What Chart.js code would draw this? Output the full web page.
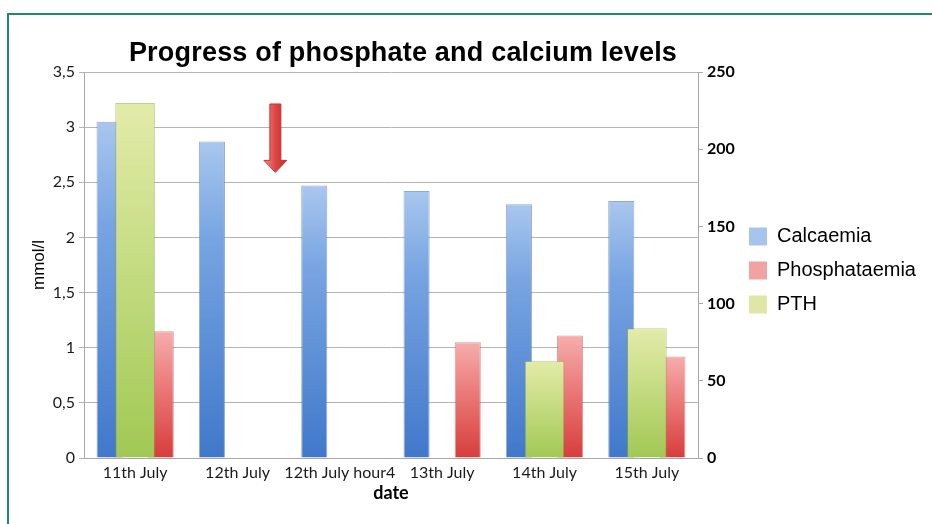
<!DOCTYPE html>
<html><head><meta charset="utf-8">
<script src="https://cdn.jsdelivr.net/npm/chart.js@4.4.1/dist/chart.umd.min.js"></script>
<style>
html,body{margin:0;padding:0;background:#fff;overflow:hidden}
#wrap{position:relative;width:932px;height:524px;overflow:hidden}
#frame{position:absolute;left:7px;top:13px;width:960px;height:540px;border:2px solid #1f8a6e;box-sizing:border-box}
canvas{position:absolute;left:0;top:0}
</style></head><body>
<div id="wrap"><div id="frame"></div><canvas id="c" width="932" height="524"></canvas></div>
<script>
// ---- data ----
const chartTitle = 'Progress of phosphate and calcium levels';
const categories = ['11th July', '12th July', '12th July hour4', '13th July', '14th July', '15th July'];
const calcaemia = [3.05, 2.87, 2.47, 2.42, 2.30, 2.33];
const phosphataemia = [1.15, null, null, 1.05, 1.11, 0.92];
const pth = [230, null, null, null, 63, 84];
const seriesNames = ['Calcaemia', 'Phosphataemia', 'PTH'];
const leftTickLabels = ['0', '0,5', '1', '1,5', '2', '2,5', '3', '3,5'];
const rightTickLabels = ['0', '50', '100', '150', '200', '250'];
const xTitle = 'date';
const yTitle = 'mmol/l';
// arrow annotation (pointing down between 12th July and 12th July hour4)
const arrowCategory = 1, arrowOffset = 0.37, arrowFrom = 3.21, arrowTo = 2.59;

// ---- styles ----
const blueStops = [[0, '#a9c7ef'], [0.3, '#78a5e2'], [1, '#4078ca']];
const redStops = [[0, '#f6adad'], [0.4, '#ec7e7d'], [1, '#d73d3b']];
const greenStops = [[0, '#e3eba9'], [0.4, '#c9de87'], [1, '#a1c854']];
const borderColors = ['rgba(60,100,170,0.55)', 'rgba(190,50,50,0.5)', 'rgba(130,160,60,0.5)'];
const legendColors = ['#a6c4ec', '#f2a2a2', '#dfe7a5'];

function barGradient(stops, axisId) {
  return (ctx) => {
    const chart = ctx.chart;
    if (ctx.type !== 'data' || !chart.chartArea || ctx.raw == null) return stops[1][1];
    const sc = chart.scales[axisId];
    const top = sc.getPixelForValue(ctx.raw), bot = sc.getPixelForValue(0);
    const g = chart.ctx.createLinearGradient(0, top, 0, bot);
    stops.forEach(([p, c]) => g.addColorStop(p, c));
    return g;
  };
}

const titlePlugin = {
  id: 'bigTitle',
  afterDraw(chart) {
    const c = chart.ctx, a = chart.chartArea;
    c.save();
    c.font = 'bold 27px "Liberation Sans", Arial, sans-serif';
    try { c.letterSpacing = '0.2px'; } catch (e) {}
    c.fillStyle = '#000';
    c.textAlign = 'center';
    c.textBaseline = 'alphabetic';
    c.fillText(chartTitle, (a.left + a.right) / 2 + 12, a.top - 11);
    c.restore();
  }
};

const arrowPlugin = {
  id: 'arrow',
  afterDatasetsDraw(chart) {
    const xs = chart.scales.x, ys = chart.scales.y, c = chart.ctx;
    const slot = xs.getPixelForValue(arrowCategory + 1) - xs.getPixelForValue(arrowCategory);
    const x = xs.getPixelForValue(arrowCategory) + arrowOffset * slot;
    const yTop = ys.getPixelForValue(arrowFrom), yTip = ys.getPixelForValue(arrowTo);
    const sw = 5.5, hw = 11.5, hh = 12;
    c.save();
    const g = c.createLinearGradient(x - hw, 0, x + hw, 0);
    g.addColorStop(0, '#f58a88'); g.addColorStop(0.5, '#de4644'); g.addColorStop(1, '#b92c2a');
    c.fillStyle = g;
    c.strokeStyle = '#c23634';
    c.lineWidth = 1;
    c.beginPath();
    c.moveTo(x - sw, yTop); c.lineTo(x + sw, yTop); c.lineTo(x + sw, yTip - hh);
    c.lineTo(x + hw, yTip - hh); c.lineTo(x, yTip); c.lineTo(x - hw, yTip - hh);
    c.lineTo(x - sw, yTip - hh); c.closePath();
    c.fill(); c.stroke();
    c.restore();
  }
};

const LEGEND_W = 197;
const legendWidthPlugin = {
  id: 'legendWidth',
  beforeLayout(chart) {
    const lg = chart.legend;
    if (lg && !lg._fixedW) {
      const f = lg.fit;
      lg.fit = function () { f.call(this); this.width = LEGEND_W; };
      lg._fixedW = true;
    }
  }
};

new Chart(document.getElementById('c'), {
  type: 'bar',
  data: {
    labels: categories,
    datasets: [
      { label: seriesNames[0], data: calcaemia, yAxisID: 'y', order: 1,
        backgroundColor: barGradient(blueStops, 'y'), borderColor: borderColors[0], borderWidth: 1, borderSkipped: 'bottom',
        categoryPercentage: 1.0, barPercentage: 0.51 },
      { label: seriesNames[1], data: phosphataemia, yAxisID: 'y', order: 2,
        backgroundColor: barGradient(redStops, 'y'), borderColor: borderColors[1], borderWidth: 1, borderSkipped: 'bottom',
        categoryPercentage: 1.0, barPercentage: 0.51 },
      { label: seriesNames[2], data: pth, yAxisID: 'y1', order: 0, grouped: false,
        backgroundColor: barGradient(greenStops, 'y1'), borderColor: borderColors[2], borderWidth: 1, borderSkipped: 'bottom',
        categoryPercentage: 1.0, barPercentage: 0.39 }
    ]
  },
  options: {
    responsive: false,
    animation: false,
    events: [],
    layout: { padding: { top: 72, left: 0, right: 0, bottom: 0 } },
    scales: {
      x: {
        grid: { display: false, drawTicks: false },
        border: { display: true, color: '#a8a8a8' },
        ticks: { font: { family: 'Lato', size: 16 }, color: '#1a1a1a', padding: 5, maxRotation: 0, autoSkip: false },
        title: { display: true, text: xTitle, font: { family: 'Lato', size: 18, weight: 'bold' }, color: '#000', padding: { top: 0, bottom: 20 } },
        afterFit: (s) => { s.height = 66; }
      },
      y: {
        position: 'left', min: 0, max: 3.5,
        ticks: { stepSize: 0.5, callback: (v, i) => leftTickLabels[i], font: { family: 'Lato', size: 16 }, color: '#1a1a1a', padding: 4 },
        grid: { color: '#b4b4b4', lineWidth: 1, tickLength: 5, drawTicks: true },
        border: { display: true, color: '#a8a8a8' },
        title: { display: true, text: yTitle, font: { family: 'Liberation Sans', size: 17 }, color: '#000', padding: { top: 29, bottom: 0 } },
        afterFit: (s) => { s.width = 84; }
      },
      y1: {
        position: 'right', min: 0, max: 250,
        ticks: { stepSize: 50, callback: (v, i) => rightTickLabels[i], font: { family: 'Lato', size: 16, weight: 'bold' }, color: '#000', padding: 4 },
        grid: { drawOnChartArea: false, color: '#a8a8a8', tickLength: 5 },
        border: { display: true, color: '#a8a8a8' },
        afterFit: (s) => { s.width = 37; }
      }
    },
    plugins: {
      title: { display: false },
      tooltip: { enabled: false },
      legend: {
        position: 'right', fullSize: false, align: 'center',
        title: { display: true, text: '', font: { size: 11, lineHeight: 1 }, padding: 0 },
        labels: {
          boxWidth: 18, boxHeight: 18, padding: 14,
          font: { family: 'Liberation Sans', size: 20 }, color: '#000',
          generateLabels: () => seriesNames.map((n, i) => ({
            text: n, fillStyle: legendColors[i], strokeStyle: legendColors[i], lineWidth: 0,
            hidden: false, datasetIndex: i, fontColor: '#000'
          })),
          sort: (a, b) => a.datasetIndex - b.datasetIndex
        }
      }
    }
  },
  plugins: [legendWidthPlugin, titlePlugin, arrowPlugin]
});
</script>
</body></html>
